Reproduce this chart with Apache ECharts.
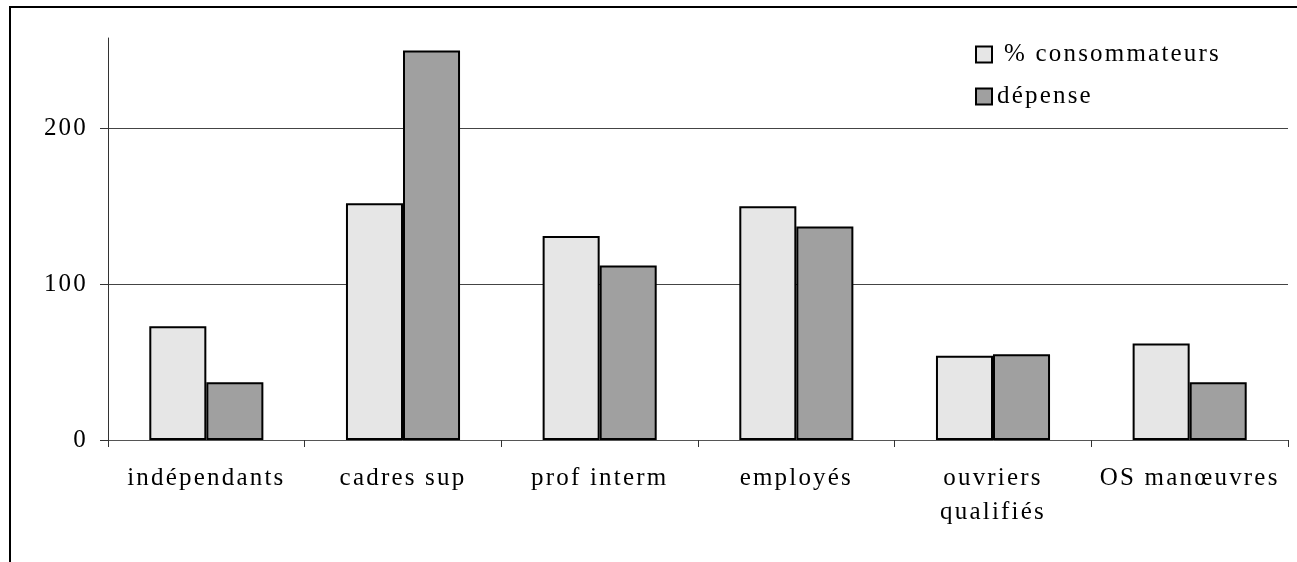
<!DOCTYPE html>
<html>
<head>
<meta charset="utf-8">
<script src="https://cdn.jsdelivr.net/npm/echarts@6/dist/echarts.min.js"></script>
<style>
  html, body { margin: 0; padding: 0; background: #fff; }
  #chart { width: 1297px; height: 562px; }
</style>
</head>
<body>
<div id="chart"></div>
<script>
const categories = ['indépendants', 'cadres sup', 'prof interm', 'employés', 'ouvriers\nqualifiés', 'OS manœuvres'];
const consommateurs = [73, 152, 131, 150, 54, 62];
const depense = [37, 250, 112, 137, 55, 37];
const seriesNames = ['% consommateurs', 'dépense'];
const yTicks = [0, 100, 200];

const FONT = '"Liberation Serif", "Times New Roman", serif';
const FS = 25;
const chart = echarts.init(document.getElementById('chart'), null, { renderer: 'canvas' });

const option = {
  animation: false,
  backgroundColor: '#fff',
  textStyle: { fontFamily: FONT, color: '#000' },
  graphic: [{
    type: 'rect',
    shape: { x: 10, y: 7, width: 1300, height: 600 },
    style: { fill: 'none', stroke: '#000', lineWidth: 2 },
    silent: true,
    z: -10
  }],
  grid: { left: 108, right: 9, top: 38, bottom: 122 },
  legend: {
    orient: 'vertical',
    left: 975,
    top: 42,
    padding: 0,
    icon: 'rect',
    itemWidth: 16,
    itemHeight: 16,
    itemGap: 17,
    textStyle: { fontFamily: FONT, fontSize: FS, color: '#000', lineHeight: 24 },
    data: [
      { name: seriesNames[0], textStyle: { padding: [0, 0, 0, 7] } },
      { name: seriesNames[1] }
    ]
  },
  xAxis: {
    type: 'category',
    data: categories,
    axisLine: { lineStyle: { color: '#555', width: 1 } },
    axisTick: { show: true, length: 7, alignWithLabel: false, lineStyle: { color: '#333' } },
    axisLabel: {
      interval: 0,
      margin: 21,
      fontFamily: FONT,
      fontSize: FS,
      lineHeight: 34,
      color: '#000'
    },
    splitLine: { show: false }
  },
  yAxis: {
    type: 'value',
    min: 0,
    max: 258,
    interval: 100,
    axisLine: { show: true, lineStyle: { color: '#333', width: 1 } },
    axisTick: { show: true, length: 8, customValues: yTicks, lineStyle: { color: '#333' } },
    axisLabel: {
      customValues: yTicks,
      margin: 20,
      fontFamily: FONT,
      fontSize: FS,
      color: '#000'
    },
    splitLine: { show: true, showMinLine: false, lineStyle: { color: '#444', width: 1 } }
  },
  series: [
    {
      name: seriesNames[0],
      type: 'bar',
      data: consommateurs,
      barGap: '0%',
      barCategoryGap: '42%',
      itemStyle: { color: '#e6e6e6', borderColor: '#000', borderWidth: 2 }
    },
    {
      name: seriesNames[1],
      type: 'bar',
      data: depense,
      barGap: '0%',
      barCategoryGap: '42%',
      itemStyle: { color: '#a0a0a0', borderColor: '#000', borderWidth: 2 }
    }
  ]
};

chart.setOption(option);
// Apply letter spacing on the rendered canvases, then redraw.
document.querySelectorAll('#chart canvas').forEach(function (c) {
  const ctx = c.getContext('2d');
  if (ctx && 'letterSpacing' in ctx) ctx.letterSpacing = '2.2px';
});
chart.clear();
chart.setOption(option);
</script>
</body>
</html>
